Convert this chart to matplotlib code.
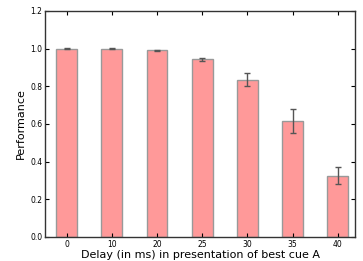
import matplotlib
matplotlib.use('Agg')
import matplotlib.pyplot as plt
import numpy as np

# delay values (ms) and performance
delays = ['0', '10', '20', '25', '30', '35', '40']
perf = [1.0, 1.0, 0.991, 0.944, 0.834, 0.614, 0.324]
err = [0.001, 0.001, 0.002, 0.008, 0.034, 0.063, 0.045]

fig = plt.figure(figsize=(3.63, 2.61), dpi=100)
ax = fig.add_axes([0.124, 0.092, 0.854, 0.866])

x = np.arange(len(delays))
ax.bar(x, perf, width=0.46, color='#ff9999', edgecolor='#999999', linewidth=1.0,
       yerr=err, error_kw=dict(ecolor='#555555', elinewidth=1.0, capsize=2, capthick=1.0))

ax.set_xlim(-0.48, 6.38)
ax.set_ylim(0, 1.2)
ax.set_xticks(x)
ax.set_xticklabels(delays)
ax.set_yticks(np.arange(0, 1.21, 0.2))
ax.set_yticklabels(['%.1f' % v for v in np.arange(0, 1.21, 0.2)])
ax.tick_params(direction='in', top=True, right=True, labelsize=5.5, length=3, pad=2)
for s in ax.spines.values():
    s.set_color('#333333')
    s.set_linewidth(1.0)

ax.set_xlabel('Delay (in ms) in presentation of best cue A', fontsize=8, labelpad=1)
ax.set_ylabel('Performance', fontsize=8, labelpad=3)

fig.savefig('out.png', dpi=100)
